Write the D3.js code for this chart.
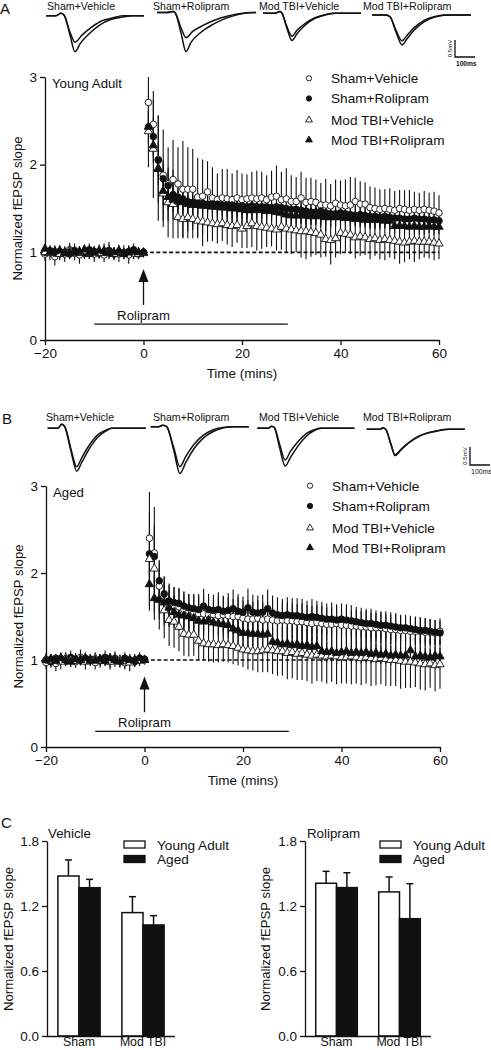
<!DOCTYPE html>
<html><head><meta charset="utf-8">
<script src="https://cdn.jsdelivr.net/npm/d3@7"></script>
<style>
body{margin:0;background:#fff}
text{font-family:"Liberation Sans",Arial,Helvetica,sans-serif;fill:#111}
</style>
</head><body>
<svg id="fig" width="491" height="1050"></svg>
<script>
// ---------------- DATA ----------------
const minutes = d3.range(-20, 61); // -20 .. 60 min, 1-min bins
const groupNames = ["Sham+Vehicle","Sham+Rolipram","Mod TBI+Vehicle","Mod TBI+Rolipram"];
const timeYTicks = [0,1,2,3];
const timeXTicks = [-20,0,20,40,60];

// Panel A (Young Adult)
const yaShamVeh = [0.98,1.01,0.95,1.00,0.98,1.03,0.99,0.97,1.00,1.02,0.98,1.00,0.97,1.02,0.99,0.98,1.00,0.97,0.99,0.98,1.00,
 2.71,2.46,2.06,1.88,1.78,1.83,1.78,1.72,1.72,1.72, 1.63,1.64,1.69,1.62,1.60,1.62,1.61,1.60,1.62,1.60,
 1.61,1.62,1.61,1.62,1.60,1.63,1.64,1.60,1.61,1.58, 1.58,1.62,1.57,1.58,1.57,1.54,1.54,1.53,1.56,1.54,
 1.53,1.54,1.58,1.55,1.55,1.51,1.50,1.49,1.50,1.49, 1.48,1.50,1.49,1.48,1.49,1.48,1.49,1.48,1.47,1.45];
const yaShamVehErr = [0.08,0.06,0.10,0.07,0.09,0.06,0.08,0.10,0.07,0.06,0.09,0.07,0.08,0.10,0.06,0.09,0.08,0.10,0.07,0.06,0.05,
 0.29,0.38,0.50,0.52,0.42,0.45,0.42,0.55,0.48,0.46, 0.45,0.42,0.35,0.35,0.30,0.33,0.34,0.30,0.32,0.30,
 0.28,0.30,0.32,0.30,0.28,0.30,0.35,0.32,0.35,0.30, 0.28,0.30,0.28,0.27,0.26,0.25,0.30,0.25,0.27,0.28,
 0.30,0.32,0.27,0.26,0.25,0.24,0.24,0.23,0.22,0.24, 0.22,0.21,0.22,0.23,0.20,0.20,0.21,0.20,0.22,0.20];
const yaShamRol = [1.00,1.02,0.99,1.01,1.00,0.98,1.02,1.00,0.99,1.03,1.01,0.99,1.00,1.02,0.98,1.00,0.99,1.01,1.03,0.99,1.00,
 2.43,2.32,2.05,1.84,1.76,1.66,1.63,1.61,1.58,1.57, 1.56,1.56,1.55,1.55,1.55,1.54,1.54,1.54,1.53,1.53,
 1.52,1.53,1.52,1.52,1.52,1.51,1.52,1.51,1.50,1.49, 1.49,1.48,1.47,1.46,1.46,1.47,1.45,1.44,1.44,1.45,
 1.44,1.43,1.42,1.43,1.42,1.41,1.41,1.40,1.41,1.40, 1.39,1.39,1.38,1.38,1.39,1.38,1.38,1.37,1.37,1.36];
const yaShamRolErr = [0.05,0.06,0.05,0.07,0.05,0.06,0.08,0.05,0.06,0.07,0.05,0.06,0.05,0.07,0.06,0.05,0.06,0.05,0.07,0.05,0.04,
 0.20,0.22,0.20,0.18,0.16,0.14,0.13,0.13,0.12,0.12, 0.12,0.12,0.11,0.11,0.11,0.11,0.12,0.11,0.11,0.11,
 0.10,0.11,0.10,0.10,0.11,0.10,0.10,0.11,0.10,0.10, 0.10,0.11,0.10,0.10,0.10,0.11,0.10,0.10,0.10,0.10,
 0.10,0.10,0.11,0.10,0.10,0.10,0.10,0.09,0.10,0.10, 0.09,0.10,0.09,0.09,0.10,0.09,0.09,0.09,0.10,0.09];
const yaTbiVeh = [1.00,0.99,1.01,0.98,1.00,1.02,0.99,1.00,1.01,0.98,1.00,0.99,1.02,1.00,0.98,1.01,0.99,1.00,1.00,0.98,0.99,
 2.38,2.18,1.96,1.67,1.57,1.55,1.40,1.38,1.40,1.38, 1.36,1.35,1.34,1.33,1.32,1.33,1.31,1.30,1.31,1.27,
 1.30,1.33,1.30,1.29,1.28,1.27,1.26,1.29,1.27,1.26, 1.25,1.24,1.24,1.23,1.22,1.20,1.15,1.14,1.16,1.22,
 1.21,1.20,1.17,1.18,1.17,1.15,1.16,1.14,1.15,1.14, 1.13,1.12,1.11,1.12,1.13,1.12,1.12,1.12,1.11,1.10];
const yaTbiVehErr = [0.06,0.08,0.05,0.07,0.06,0.09,0.06,0.05,0.08,0.06,0.07,0.05,0.08,0.06,0.07,0.05,0.06,0.08,0.06,0.05,0.05,
 0.41,0.56,0.60,0.38,0.40,0.39,0.24,0.22,0.24,0.22, 0.20,0.28,0.22,0.20,0.22,0.20,0.22,0.24,0.20,0.22,
 0.25,0.27,0.28,0.25,0.22,0.20,0.24,0.26,0.27,0.28, 0.25,0.30,0.32,0.28,0.25,0.26,0.20,0.28,0.22,0.24,
 0.20,0.22,0.24,0.22,0.20,0.23,0.20,0.22,0.24,0.20, 0.21,0.25,0.22,0.20,0.24,0.20,0.18,0.19,0.20,0.18];
const yaTbiRol = [1.04,1.00,1.01,1.02,0.99,1.00,1.00,1.01,1.03,0.99,1.00,1.02,1.01,0.99,1.00,1.02,0.98,1.00,1.01,1.00,1.00,
 2.43,2.22,1.95,1.70,1.63,1.60,1.58,1.57,1.55,1.54, 1.54,1.53,1.53,1.52,1.52,1.51,1.51,1.50,1.50,1.49,
 1.48,1.48,1.49,1.48,1.47,1.47,1.46,1.45,1.43,1.42, 1.42,1.42,1.42,1.41,1.42,1.41,1.40,1.40,1.40,1.40,
 1.39,1.39,1.38,1.38,1.37,1.37,1.37,1.37,1.36,1.36, 1.30,1.30,1.30,1.29,1.30,1.29,1.29,1.30,1.29,1.29];
const yaTbiRolErr = [0.06,0.05,0.07,0.05,0.06,0.05,0.07,0.06,0.05,0.06,0.05,0.07,0.06,0.05,0.06,0.07,0.05,0.06,0.05,0.06,0.04,
 0.18,0.20,0.18,0.16,0.14,0.13,0.12,0.12,0.12,0.11, 0.11,0.11,0.11,0.10,0.11,0.10,0.10,0.11,0.10,0.10,
 0.10,0.10,0.10,0.10,0.10,0.10,0.10,0.10,0.09,0.10, 0.10,0.09,0.10,0.09,0.10,0.09,0.09,0.10,0.09,0.09,
 0.09,0.09,0.09,0.09,0.09,0.09,0.09,0.09,0.09,0.09, 0.09,0.09,0.08,0.09,0.09,0.08,0.09,0.08,0.09,0.08];

// Panel B (Aged)
const agShamVeh = [0.97,1.01,0.96,1.02,0.99,1.00,0.98,1.03,0.99,1.00,0.97,1.01,1.00,0.98,1.02,0.99,0.97,1.00,0.99,1.01,1.00,
 2.40,2.23,1.85,1.68,1.63,1.62,1.61,1.58,1.56,1.55, 1.53,1.53,1.52,1.52,1.51,1.52,1.51,1.50,1.50,1.48,
 1.47,1.47,1.48,1.46,1.47,1.46,1.45,1.46,1.45,1.45, 1.44,1.44,1.43,1.42,1.43,1.42,1.41,1.41,1.42,1.40,
 1.40,1.39,1.39,1.38,1.38,1.37,1.37,1.37,1.36,1.35, 1.35,1.34,1.34,1.33,1.33,1.33,1.32,1.32,1.31,1.33];
const agShamVehErr = [0.07,0.06,0.09,0.07,0.06,0.08,0.07,0.09,0.06,0.07,0.08,0.06,0.07,0.09,0.06,0.07,0.08,0.06,0.07,0.06,0.05,
 0.53,0.53,0.30,0.28,0.25,0.22,0.22,0.20,0.20,0.20, 0.20,0.21,0.20,0.20,0.22,0.20,0.21,0.20,0.22,0.20,
 0.22,0.20,0.21,0.20,0.20,0.22,0.20,0.20,0.21,0.20, 0.20,0.21,0.20,0.20,0.20,0.20,0.19,0.20,0.20,0.19,
 0.19,0.18,0.19,0.18,0.18,0.18,0.17,0.18,0.17,0.17, 0.17,0.17,0.16,0.16,0.16,0.16,0.16,0.15,0.15,0.15];
const agShamRol = [1.00,0.98,1.02,1.01,0.99,1.03,1.00,0.99,1.02,1.01,1.00,0.99,1.03,1.00,1.01,0.99,1.02,1.00,0.98,1.02,1.01,
 2.22,2.19,1.91,1.76,1.68,1.66,1.65,1.62,1.60,1.59, 1.58,1.62,1.58,1.57,1.58,1.56,1.57,1.59,1.56,1.55,
 1.60,1.55,1.54,1.55,1.59,1.54,1.52,1.51,1.52,1.51, 1.51,1.50,1.49,1.50,1.49,1.48,1.47,1.47,1.46,1.47,
 1.46,1.45,1.44,1.43,1.42,1.42,1.41,1.40,1.40,1.39, 1.38,1.37,1.37,1.36,1.35,1.34,1.34,1.33,1.32,1.31];
const agShamRolErr = [0.05,0.06,0.05,0.07,0.05,0.08,0.06,0.05,0.07,0.06,0.05,0.06,0.08,0.05,0.06,0.05,0.07,0.05,0.06,0.07,0.05,
 0.25,0.30,0.22,0.20,0.18,0.18,0.17,0.17,0.16,0.17, 0.18,0.20,0.18,0.18,0.20,0.18,0.20,0.22,0.20,0.18,
 0.22,0.20,0.20,0.20,0.22,0.20,0.20,0.19,0.20,0.20, 0.20,0.20,0.19,0.20,0.19,0.19,0.18,0.19,0.18,0.18,
 0.18,0.18,0.17,0.17,0.17,0.17,0.16,0.16,0.16,0.16, 0.16,0.15,0.15,0.15,0.15,0.15,0.14,0.14,0.14,0.14];
const agTbiVeh = [1.01,0.99,1.00,0.98,1.02,1.00,0.99,1.01,0.98,1.00,1.02,0.99,1.00,0.98,1.01,1.00,0.99,0.97,1.00,0.99,1.00,
 2.16,2.05,1.70,1.57,1.46,1.44,1.38,1.30,1.29,1.29, 1.22,1.19,1.18,1.18,1.17,1.18,1.17,1.16,1.14,1.12,
 1.11,1.10,1.10,1.11,1.12,1.11,1.10,1.10,1.08,1.09, 1.07,1.08,1.06,1.05,1.06,1.05,1.04,1.05,1.04,1.03,
 1.03,1.04,1.03,1.02,1.03,1.02,1.01,1.02,1.01,1.00, 1.00,0.99,0.98,0.98,0.97,0.96,0.95,0.96,0.94,0.95];
const agTbiVehErr = [0.07,0.08,0.06,0.09,0.07,0.06,0.08,0.07,0.09,0.06,0.07,0.08,0.06,0.07,0.09,0.06,0.08,0.10,0.07,0.06,0.05,
 0.55,0.50,0.35,0.32,0.30,0.30,0.28,0.25,0.25,0.24, 0.22,0.20,0.20,0.21,0.20,0.20,0.20,0.21,0.20,0.20,
 0.22,0.22,0.24,0.25,0.26,0.27,0.28,0.28,0.30,0.30, 0.30,0.31,0.30,0.32,0.30,0.30,0.31,0.30,0.32,0.30,
 0.30,0.32,0.30,0.31,0.30,0.32,0.30,0.30,0.31,0.30, 0.30,0.32,0.30,0.30,0.28,0.30,0.30,0.28,0.30,0.28];
const agTbiRol = [1.00,1.01,0.99,1.02,1.00,0.98,1.01,1.00,1.02,0.99,1.00,1.01,0.99,1.02,1.00,0.98,1.01,1.00,0.99,1.02,1.00,
 1.87,1.71,1.69,1.66,1.60,1.55,1.52,1.51,1.50,1.48, 1.45,1.44,1.46,1.43,1.42,1.41,1.40,1.36,1.34,1.31,
 1.31,1.30,1.30,1.29,1.30,1.21,1.20,1.18,1.19,1.17, 1.18,1.16,1.17,1.15,1.16,1.10,1.09,1.10,1.08,1.09,
 1.10,1.08,1.09,1.08,1.09,1.07,1.08,1.06,1.07,1.05, 1.06,1.05,1.05,1.11,1.04,1.05,1.04,1.03,1.05,1.04];
const agTbiRolErr = [0.06,0.05,0.07,0.06,0.05,0.06,0.07,0.05,0.06,0.05,0.07,0.06,0.05,0.06,0.05,0.07,0.06,0.05,0.06,0.05,0.05,
 0.30,0.25,0.22,0.20,0.20,0.18,0.18,0.17,0.17,0.16, 0.16,0.16,0.16,0.15,0.15,0.15,0.15,0.15,0.15,0.15,
 0.15,0.14,0.14,0.14,0.14,0.14,0.14,0.13,0.13,0.13, 0.13,0.13,0.13,0.12,0.12,0.12,0.12,0.12,0.12,0.12,
 0.12,0.12,0.12,0.12,0.12,0.11,0.11,0.11,0.11,0.11, 0.11,0.11,0.11,0.15,0.11,0.11,0.10,0.10,0.10,0.10];

// Rolipram application (min) and annotation heights (normalized units)
const rolipramSpan = [-10, 29.3];
const rolipramArrow = [0.40, 0.81];

// Representative fEPSP traces: [ms, mV] points, two sweeps each (baseline / post-LTP)
const yaTrShamVehA = [[0,0],[50,0],[75,0.07],[90,0.02],[120,-0.57],[145,-1.06],[170,-0.83],[220,-0.51],[270,-0.27],[320,-0.12],[370,-0.05],[435,0],[490,0]];
const yaTrShamVehB = [[0,0],[50,0],[75,0.07],[90,0.02],[120,-0.48],[145,-0.78],[180,-0.57],[230,-0.33],[280,-0.15],[330,-0.07],[385,0],[490,0]];
const yaTrShamRolA = [[0,0],[50,0],[80,0.03],[90,0],[120,-0.6],[145,-1.15],[170,-0.88],[220,-0.58],[280,-0.35],[340,-0.18],[400,-0.07],[460,-0.01],[495,0]];
const yaTrShamRolB = [[0,0],[50,0],[80,0.03],[90,0],[120,-0.45],[145,-0.74],[180,-0.55],[230,-0.38],[290,-0.22],[350,-0.11],[410,-0.04],[470,0],[495,0]];
const yaTrTbiVehA = [[0,0],[60,0],[85,0.05],[95,0],[120,-0.45],[145,-0.8],[170,-0.6],[210,-0.35],[260,-0.15],[310,-0.05],[360,0],[490,0]];
const yaTrTbiVehB = [[0,0],[60,0],[85,0.05],[95,0],[120,-0.4],[145,-0.67],[170,-0.5],[210,-0.3],[260,-0.13],[310,-0.04],[360,0],[490,0]];
const yaTrTbiRolA = [[0,0],[70,0],[90,-0.05],[120,-0.5],[150,-0.88],[175,-0.7],[210,-0.45],[260,-0.2],[310,-0.07],[360,-0.01],[400,0],[495,0]];
const yaTrTbiRolB = [[0,0],[70,0],[90,-0.05],[120,-0.45],[150,-0.76],[175,-0.6],[210,-0.38],[260,-0.16],[310,-0.05],[360,0],[495,0]];
const agTrShamVehA = [[0,0],[50,0],[70,0.11],[85,0.05],[115,-0.6],[145,-1.19],[170,-0.95],[210,-0.55],[250,-0.25],[290,-0.08],[320,0],[490,0]];
const agTrShamVehB = [[0,0],[50,0],[70,0.11],[85,0.05],[115,-0.55],[145,-1.07],[170,-0.82],[210,-0.45],[250,-0.18],[290,-0.05],[320,0],[490,0]];
const agTrShamRolA = [[0,0],[40,0],[60,0.04],[80,0],[115,-0.65],[146,-1.3],[175,-1.0],[215,-0.62],[260,-0.33],[310,-0.14],[360,-0.04],[410,0],[490,0]];
const agTrShamRolB = [[0,0],[40,0],[60,0.04],[80,0],[115,-0.58],[146,-1.11],[175,-0.83],[215,-0.5],[260,-0.25],[310,-0.09],[360,-0.02],[410,0],[490,0]];
const agTrTbiVehA = [[0,0],[55,0],[72,0.06],[85,0.02],[112,-0.55],[139,-1.05],[165,-0.82],[205,-0.48],[245,-0.22],[285,-0.06],[320,0],[485,0]];
const agTrTbiVehB = [[0,0],[55,0],[72,0.06],[85,0.02],[112,-0.45],[139,-0.88],[165,-0.65],[205,-0.36],[245,-0.15],[285,-0.04],[320,0],[485,0]];
const agTrTbiRolA = [[0,0],[70,0],[80,0.04],[95,0],[120,-0.4],[142,-0.73],[170,-0.58],[210,-0.38],[260,-0.2],[310,-0.1],[360,-0.04],[410,0],[490,0]];
const agTrTbiRolB = [[0,0],[70,0],[80,0.04],[95,0],[120,-0.39],[142,-0.71],[170,-0.56],[210,-0.37],[260,-0.19],[310,-0.09],[360,-0.03],[410,0],[490,0]];

// Panel C bar charts
const barGroups = ["Sham","Mod TBI"];
const ageGroups = ["Young Adult","Aged"];
const vehYoung = [1.477, 1.139];
const vehAged = [1.369, 1.025];
const vehYoungErr = [0.148, 0.147];
const vehAgedErr = [0.077, 0.086];
const rolYoung = [1.41, 1.33];
const rolAged = [1.37, 1.083];
const rolYoungErr = [0.11, 0.138];
const rolAgedErr = [0.137, 0.323];
const barYTicks = [0, 0.6, 1.2, 1.8];

// ---------------- DRAWING ----------------
const svg = d3.select("#fig");
const INK = "#111";
const FONT = '"Liberation Sans",Arial,Helvetica,sans-serif';

function styleAxis(g, fs) {
  g.attr("font-family", FONT).attr("font-size", fs);
  g.select(".domain").attr("stroke", INK).attr("stroke-width", 1.3);
  g.selectAll(".tick line").attr("stroke", INK).attr("stroke-width", 1.3);
  g.selectAll(".tick text").attr("fill", INK);
}

const symTypes = [d3.symbolCircle, d3.symbolCircle, d3.symbolTriangle, d3.symbolTriangle];
const symFill = ["#fff", INK, "#fff", INK];

function timePanel(cfg) {
  const g = svg.append("g");
  const x = d3.scaleLinear().domain([-20, 60]).range(cfg.xr);
  const y = d3.scaleLinear().domain([0, 3]).range(cfg.yr);

  const ya = g.append("g").attr("transform", `translate(${cfg.xr[0]},0)`)
    .call(d3.axisLeft(y).tickValues(timeYTicks).tickFormat(d3.format("d")).tickSize(5).tickSizeOuter(0).tickPadding(3));
  styleAxis(ya, 13.5);
  const xa = g.append("g").attr("transform", `translate(0,${cfg.yr[0]})`)
    .call(d3.axisBottom(x).tickValues(timeXTicks).tickFormat(d3.format("d")).tickSize(5).tickSizeOuter(0).tickPadding(3));
  styleAxis(xa, 13.5);

  g.append("text").attr("x", x(20)).attr("y", cfg.yr[0] + 38)
    .attr("text-anchor", "middle").attr("font-size", 13.5).text("Time (mins)");
  g.append("text").attr("transform", `translate(${cfg.titleX},${(cfg.yr[0] + cfg.yr[1]) / 2}) rotate(-90)`)
    .attr("text-anchor", "middle").attr("font-size", 13.2).text("Normalized fEPSP slope");
  g.append("text").attr("x", cfg.xr[0] + 7).attr("y", y(3) + 10.5).attr("font-size", 13.2).text(cfg.title);

  g.append("line").attr("x1", x(0)).attr("x2", x(60)).attr("y1", y(1)).attr("y2", y(1))
    .attr("stroke", INK).attr("stroke-width", 1.7).attr("stroke-dasharray", "4,2.4");

  cfg.series.forEach(s => {
    g.append("g").selectAll("line").data(minutes).join("line")
      .attr("x1", (d) => x(d)).attr("x2", (d) => x(d))
      .attr("y1", (d, i) => y(s.v[i] + s.e[i])).attr("y2", (d, i) => y(s.v[i] - s.e[i]))
      .attr("stroke", INK).attr("stroke-width", 1.1);
  });
  cfg.series.forEach((s, k) => {
    const size = k < 2 ? 34 : 30;
    g.append("g").selectAll("path").data(minutes).join("path")
      .attr("d", d3.symbol().type(symTypes[k]).size(size))
      .attr("transform", (d, i) => `translate(${x(d)},${y(s.v[i])})`)
      .attr("fill", symFill[k]).attr("stroke", INK).attr("stroke-width", 0.9);
  });

  const ax = x(0);
  const tipY = y(rolipramArrow[1]);
  g.append("line").attr("x1", ax).attr("x2", ax).attr("y1", y(rolipramArrow[0])).attr("y2", tipY + 10)
    .attr("stroke", INK).attr("stroke-width", 1.3);
  g.append("path").attr("d", `M${ax},${tipY} L${ax - 5},${tipY + 13} L${ax + 5},${tipY + 13} Z`).attr("fill", INK);
  g.append("text").attr("x", x(0)).attr("y", y(0.28) + 4.7).attr("text-anchor", "middle").attr("font-size", 13.2).text("Rolipram");
  g.append("line").attr("x1", x(rolipramSpan[0])).attr("x2", x(rolipramSpan[1]))
    .attr("y1", y(0.18)).attr("y2", y(0.18)).attr("stroke", INK).attr("stroke-width", 1.3);

  cfg.legendY.forEach((ly, k) => {
    g.append("path").attr("d", d3.symbol().type(symTypes[k]).size(k < 2 ? 22 : 20)())
      .attr("transform", `translate(${cfg.legendX},${ly})`)
      .attr("fill", symFill[k]).attr("stroke", INK).attr("stroke-width", 0.9);
    g.append("text").attr("x", cfg.legendX + 22).attr("y", ly + 4.8).attr("font-size", 13.6).text(groupNames[k]);
  });

  cfg.traces.forEach((tr, k) => {
    const tx = d3.scaleLinear().domain([0, 490]).range([tr.x0, tr.x0 + 98]);
    const ty = d3.scaleLinear().domain([0, -1]).range([tr.base, tr.base + cfg.mvPx]);
    const line = d3.line().x(d => tx(d[0])).y(d => ty(d[1])).curve(d3.curveMonotoneX);
    [tr.a, tr.b].forEach(sw => {
      g.append("path").attr("d", line(sw)).attr("fill", "none").attr("stroke", INK).attr("stroke-width", 1.5);
    });
    g.append("text").attr("x", cfg.labelX[k]).attr("y", cfg.labelY).attr("font-size", 10.6).text(groupNames[k]);
  });

  const sb = cfg.scaleBar;
  g.append("path").attr("d", `M${sb.x},${sb.y - cfg.mvPx * 0.5} V${sb.y} H${sb.x + 20}`)
    .attr("fill", "none").attr("stroke", INK).attr("stroke-width", 1.3);
  g.append("text").attr("transform", `translate(${sb.x - 3},${sb.y - cfg.mvPx * 0.25}) rotate(-90)`)
    .attr("text-anchor", "middle").attr("font-size", 6).text("0.5mV");
  g.append("text").attr("x", sb.x + 1).attr("y", sb.y + 9).attr("font-size", sb.fs).attr("font-weight", sb.bold ? "bold" : "normal").text("100ms");

  g.append("text").attr("x", cfg.letter[0]).attr("y", cfg.letter[1]).attr("font-size", 15).text(cfg.letter[2]);
}

timePanel({
  xr: [45, 439], yr: [340, 77], titleX: 21.5, title: "Young Adult", mvPx: 34,
  series: [
    {v: yaShamVeh, e: yaShamVehErr}, {v: yaShamRol, e: yaShamRolErr},
    {v: yaTbiVeh, e: yaTbiVehErr}, {v: yaTbiRol, e: yaTbiRolErr}],
  legendX: 309, legendY: [78.3, 98.5, 120, 140],
  traces: [
    {x0: 46, base: 15.7, a: yaTrShamVehA, b: yaTrShamVehB},
    {x0: 157, base: 12.5, a: yaTrShamRolA, b: yaTrShamRolB},
    {x0: 263, base: 13.3, a: yaTrTbiVehA, b: yaTrTbiVehB},
    {x0: 372, base: 15, a: yaTrTbiRolA, b: yaTrTbiRolB}],
  labelX: [47, 153, 259, 363], labelY: 10,
  scaleBar: {x: 455, y: 57, fs: 6.6, bold: true},
  letter: [0, 14, "A"]
});

timePanel({
  xr: [46, 440], yr: [747, 486], titleX: 22.5, title: "Aged", mvPx: 36,
  series: [
    {v: agShamVeh, e: agShamVehErr}, {v: agShamRol, e: agShamRolErr},
    {v: agTbiVeh, e: agTbiVehErr}, {v: agTbiRol, e: agTbiRolErr}],
  legendX: 310, legendY: [485.7, 506, 528, 547.7],
  traces: [
    {x0: 47.7, base: 428.3, a: agTrShamVehA, b: agTrShamVehB},
    {x0: 150.7, base: 426.7, a: agTrShamRolA, b: agTrShamRolB},
    {x0: 257.3, base: 428.3, a: agTrTbiVehA, b: agTrTbiVehB},
    {x0: 366.7, base: 429.3, a: agTrTbiRolA, b: agTrTbiRolB}],
  labelX: [46, 153, 259, 363], labelY: 421,
  scaleBar: {x: 470, y: 465, fs: 7, bold: false},
  letter: [2, 424, "B"]
});

function barPanel(cfg) {
  const g = svg.append("g");
  const y = d3.scaleLinear().domain([0, 1.8]).range([1036, 841]);
  const x0 = d3.scaleBand().domain(barGroups).range(cfg.xr).paddingInner(0.34).paddingOuter(0.17);
  const x1 = d3.scaleBand().domain(ageGroups).range([0, x0.bandwidth()]);

  const ya = g.append("g").attr("transform", `translate(${cfg.xr[0]},0)`)
    .call(d3.axisLeft(y).tickValues(barYTicks).tickFormat(d3.format(".1f")).tickSize(5).tickSizeOuter(0).tickPadding(3));
  styleAxis(ya, 13.5);

  const rows = barGroups.map((grp, i) => ({grp, vals: [
    {age: ageGroups[0], v: cfg.young[i], e: cfg.youngErr[i]},
    {age: ageGroups[1], v: cfg.aged[i], e: cfg.agedErr[i]}]}));

  rows.forEach(r => {
    r.vals.forEach((d, j) => {
      const bx = x0(r.grp) + x1(d.age);
      const bw = x1.bandwidth();
      const cx = bx + bw / 2;
      g.append("line").attr("x1", cx).attr("x2", cx).attr("y1", y(d.v)).attr("y2", y(d.v + d.e))
        .attr("stroke", INK).attr("stroke-width", 1.5);
      g.append("line").attr("x1", cx - 3.5).attr("x2", cx + 3.5).attr("y1", y(d.v + d.e)).attr("y2", y(d.v + d.e))
        .attr("stroke", INK).attr("stroke-width", 1.5);
      g.append("rect").attr("x", bx).attr("y", y(d.v)).attr("width", bw).attr("height", y(0) - y(d.v))
        .attr("fill", j === 0 ? "#fff" : INK).attr("stroke", INK).attr("stroke-width", 1.5);
    });
  });

  const xa = g.append("g").attr("transform", `translate(0,1036)`)
    .call(d3.axisBottom(x0).tickSize(0).tickSizeOuter(0).tickPadding(1));
  styleAxis(xa, 12.3);
  xa.select(".domain").attr("d", `M${cfg.xr[0]},0.5H${cfg.xr[1]}`);

  g.append("text").attr("transform", `translate(${cfg.titleX},939) rotate(-90)`)
    .attr("text-anchor", "middle").attr("font-size", 13.2).text("Normalized fEPSP slope");
  g.append("text").attr("x", cfg.xr[0] + cfg.labelDx).attr("y", 837.5).attr("font-size", 13.3).text(cfg.label);

  ageGroups.forEach((a, j) => {
    const ly = 841 + j * 14.5;
    g.append("rect").attr("x", cfg.legX).attr("y", ly).attr("width", 21).attr("height", 7)
      .attr("fill", j === 0 ? "#fff" : INK).attr("stroke", INK).attr("stroke-width", 1.3);
    g.append("text").attr("x", cfg.legX + 33).attr("y", ly + 8.5).attr("font-size", 13.6).text(a);
  });
}

barPanel({xr: [47, 175], titleX: 13, label: "Vehicle", labelDx: 1, legX: 124,
  young: vehYoung, aged: vehAged, youngErr: vehYoungErr, agedErr: vehAgedErr});
barPanel({xr: [305, 431], titleX: 270, label: "Rolipram", labelDx: 2, legX: 380,
  young: rolYoung, aged: rolAged, youngErr: rolYoungErr, agedErr: rolAgedErr});

svg.append("text").attr("x", 1).attr("y", 828).attr("font-size", 15).text("C");
</script>
</body></html>
